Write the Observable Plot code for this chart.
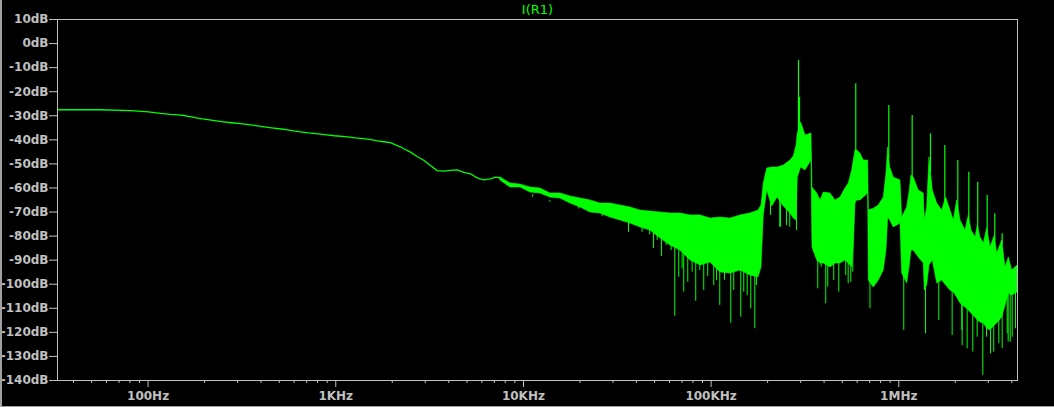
<!DOCTYPE html>
<html><head><meta charset="utf-8">
<script src="https://cdn.jsdelivr.net/npm/d3@7"></script>
<script src="https://cdn.jsdelivr.net/npm/@observablehq/plot@0.6"></script>
<style>
html,body{margin:0;padding:0;background:#000;width:1054px;height:407px;overflow:hidden}
#wrap{position:relative;width:1054px;height:407px}
#wrap svg{display:block}
.bl{position:absolute;left:0;top:0;width:2px;height:407px;background:#a0a0a0}
.bb{position:absolute;left:0;top:406px;width:1054px;height:1px;background:#a0a0a0}
</style></head><body><div id="wrap"></div>
<script>
// Smooth low-frequency part of the spectrum (Hz, dB)
const lineFreq = [32.9, 55.7, 80.5, 100.4, 116.3, 131.5, 145, 158, 168.1, 180.9, 194.7, 212.2, 231.2, 252, 277.9, 310.4, 351, 382.4, 416.7, 454.1, 500.8, 545.8, 594.8, 648, 714.9, 808.2, 891.9, 983.5, 1126, 1273, 1439, 1568, 1667, 1795, 1956, 2080, 2211, 2302, 2500, 2713, 2943, 3194, 3468, 3761, 4083, 4434, 4806, 5218, 5666, 6143, 6671, 7093, 7542];
const lineDb = [-27.5, -27.5, -27.9, -28.4, -29.0, -29.4, -29.6, -30.0, -30.4, -30.9, -31.3, -31.7, -32.1, -32.5, -32.9, -33.3, -33.8, -34.2, -34.6, -35.0, -35.4, -35.8, -36.3, -36.7, -37.1, -37.5, -37.9, -38.3, -38.7, -39.2, -39.6, -40.0, -40.4, -40.8, -41.2, -42.1, -42.9, -43.7, -45.1, -46.9, -48.5, -50.7, -52.8, -53.0, -52.7, -52.5, -53.5, -54.1, -55.8, -56.6, -56.2, -55.5, -55.8];

// Noisy band: frequency, upper envelope, lower envelope (dB)
const bandFreq = [7542, 8524, 9638, 10897, 12321, 13931, 15749, 17808, 20132, 22761, 25733, 29093, 32888, 37180, 42034, 47521, 53725, 60738, 68667, 77630, 87764, 99243, 112200, 126850, 143420, 162150, 178900, 185540, 190850, 199000, 211600, 225900, 243950, 264850, 275800, 285100, 289600, 301990, 318400, 342600, 346800, 367500, 382700, 398500, 432600, 460000, 489100, 520000, 541500, 564500, 575700, 587900, 600200, 625000, 651000, 687100, 692200, 736000, 782300, 831800, 859900, 878100, 899800, 940400, 1021000, 1042600, 1108500, 1144500, 1168500, 1202000, 1278000, 1359000, 1376000, 1417000, 1457800, 1518000, 1602000, 1703000, 1788500, 1886000, 1964000, 2047800, 2132600, 2267000, 2361000, 2440600, 2564000, 2636000, 2725000, 2838000, 2959000, 3082000, 3248000, 3345000, 3556000, 3705000, 3858000, 4022000, 4292000];
const bandHi = [-55.6, -58.1, -58.6, -59.8, -60.2, -62.3, -62.3, -63.5, -64.4, -65.2, -66.5, -66.5, -67.3, -68.1, -69.4, -69.8, -70.2, -70.6, -70.6, -71.4, -71.4, -72.7, -72.3, -72.7, -71.4, -70.6, -69.4, -67.3, -58.1, -51.9, -51.5, -51.5, -50.7, -48.6, -46.9, -42.4, -37.4, -32.8, -38.2, -37.4, -59.8, -62.3, -65.2, -61.9, -62.3, -65.2, -64.0, -60.2, -58.1, -52.7, -48.6, -44.4, -44.4, -45.7, -48.6, -48.6, -69.4, -68.6, -67.3, -64.0, -54.0, -43.2, -51.5, -55.7, -56.9, -72.3, -68.1, -61.1, -54.8, -55.7, -61.1, -62.3, -73.5, -68.1, -47.3, -61.1, -66.5, -69.4, -64.0, -69.4, -73.5, -65.2, -73.5, -77.7, -71.4, -77.7, -80.6, -75.6, -80.6, -83.1, -76.8, -84.7, -79.8, -87.2, -81.8, -93.0, -88.9, -94.3, -92.2];
const bandLo = [-56.9, -59.8, -59.8, -61.9, -62.3, -64.0, -64.4, -66.5, -68.1, -70.2, -70.6, -72.3, -73.5, -74.8, -76.4, -77.7, -81.0, -83.9, -86.0, -90.1, -92.2, -91.0, -95.1, -95.5, -94.3, -96.4, -97.2, -93.0, -71.4, -61.1, -67.7, -64.0, -67.7, -70.6, -72.7, -73.5, -55.7, -51.5, -52.7, -48.6, -84.7, -90.1, -91.4, -91.4, -93.0, -91.4, -91.4, -90.1, -91.4, -93.0, -84.7, -66.5, -65.2, -65.2, -64.0, -62.3, -98.5, -101.4, -98.5, -94.3, -86.0, -72.3, -73.5, -76.4, -74.8, -95.5, -99.7, -92.2, -86.0, -86.0, -88.9, -91.4, -102.6, -100.5, -92.2, -90.1, -99.7, -98.5, -100.5, -102.6, -103.4, -105.5, -108.0, -109.7, -110.9, -112.2, -113.8, -115.1, -115.9, -116.3, -118.4, -119.2, -117.1, -116.3, -113.8, -108.9, -103.9, -104.7, -103.4];

// Harmonic peaks (tops of narrow spikes)
const peakFreq = [292100, 295800, 590000, 884600, 1178700, 1475700, 1759000, 2063000, 2361000, 2636000, 2959000, 3248000, 3556000];
const peakDb = [-7.0, -22.3, -16.7, -25.7, -29.9, -37.5, -42.4, -48.6, -53.5, -57.6, -63.1, -70.7, -79.0];

// Downward noise spikes (bottoms)
const dipFreq = [11170, 13820, 19710, 26260, 36280, 42910, 47100, 49310, 51590, 54390, 57590, 61240, 64020, 67230, 70090, 71480, 75090, 79250, 82820, 87000, 91370, 95960, 103300, 106800, 111200, 117800, 127250, 132050, 143880, 149300, 155700, 162700, 170900, 174400, 207200, 232200, 234200, 252100, 262500, 285000, 352400, 370200, 385900, 408300, 418400, 450400, 479000, 521900, 537400, 554900, 568600, 702400, 1063000, 1388000, 1634000, 1925000, 2167000, 2177000, 2314000, 2480000, 2617000, 2804000, 2934000, 3082000, 3208000, 3412000, 3556000, 3782000, 3828000, 3925000, 4022000, 4188000];
const dipDb = [-63.8, -65.9, -68.7, -71.9, -78.5, -78.4, -79.5, -85.2, -81.8, -88.5, -83.9, -86.0, -113.3, -97.1, -93.6, -103.3, -99.2, -95.0, -107.1, -94.3, -102.6, -96.8, -100.5, -98.4, -108.8, -98.4, -116.2, -102.6, -113.7, -103.3, -104.7, -110.2, -118.5, -100.5, -71.4, -76.3, -76.3, -75.6, -76.3, -77.7, -86.7, -101.9, -92.9, -108.1, -101.2, -98.5, -103.3, -96.4, -99.8, -99.2, -95.0, -110.2, -119.2, -120.6, -115.1, -121.3, -119.2, -125.5, -126.8, -128.2, -122.0, -137.9, -122.0, -128.9, -128.2, -124.7, -126.8, -120.6, -124.1, -124.1, -122.0, -118.5];

// Axes
const yTickValues = [10, 0, -10, -20, -30, -40, -50, -60, -70, -80, -90, -100, -110, -120, -130, -140];
const yTickLabels = ["10dB", "0dB", "-10dB", "-20dB", "-30dB", "-40dB", "-50dB", "-60dB", "-70dB", "-80dB", "-90dB", "-100dB", "-110dB", "-120dB", "-130dB", "-140dB"];
const xTickValues = [100, 1000, 10000, 100000, 1000000];
const xTickLabels = ["100Hz", "1KHz", "10KHz", "100KHz", "1MHz"];
const xMinorTicks = [40, 50, 60, 70, 80, 90, 200, 300, 400, 500, 600, 700, 800, 900, 2000, 3000, 4000, 5000, 6000, 7000, 8000, 9000, 20000, 30000, 40000, 50000, 60000, 70000, 80000, 90000, 200000, 300000, 400000, 500000, 600000, 700000, 800000, 900000, 2000000, 3000000, 4000000];
const xDomain = [32.9, 4292000];
const yDomain = [-140, 10];
const title = "I(R1)";

const green = "#00ff00";
const gray = "#c0c0c0";

const lineData = lineFreq.map((f, i) => ({f, db: lineDb[i]}));
const bandData = bandFreq.map((f, i) => ({f, hi: bandHi[i], lo: bandLo[i]}));

function interpAt(f, fs, vs) {
  const lf = Math.log10(f);
  for (let i = 1; i < fs.length; i++) {
    if (fs[i] >= f) {
      const a = Math.log10(fs[i - 1]), b = Math.log10(fs[i]);
      const t = (lf - a) / (b - a);
      return vs[i - 1] + t * (vs[i] - vs[i - 1]);
    }
  }
  return vs[vs.length - 1];
}
const peakData = peakFreq.map((f, i) => ({f, top: peakDb[i], base: interpAt(f, bandFreq, bandHi) - 2}));
const dipData = dipFreq.map((f, i) => ({f, bottom: dipDb[i], base: interpAt(f, bandFreq, bandHi) - 3}));

const chart = Plot.plot({
  width: 1054,
  height: 407,
  marginLeft: 57,
  marginRight: 37,
  marginTop: 19,
  marginBottom: 27,
  style: {background: "#000", color: gray, fontFamily: "'DejaVu Sans', sans-serif", fontSize: "12px", fontWeight: "bold"},
  x: {type: "log", domain: xDomain, axis: null},
  y: {type: "linear", domain: yDomain, axis: null},
  marks: [
    Plot.areaY(bandData, {x: "f", y1: "lo", y2: "hi", fill: green, stroke: green, strokeWidth: 0.6}),
    Plot.ruleX(dipData, {x: "f", y1: "base", y2: "bottom", stroke: green, strokeWidth: 1}),
    Plot.ruleX(peakData, {x: "f", y1: "base", y2: "top", stroke: green, strokeWidth: 1.2}),
    Plot.line(lineData, {x: "f", y: "db", stroke: green, strokeWidth: 1.3}),
    Plot.frame({stroke: gray}),
    Plot.axisY({ticks: yTickValues, tickSize: 8, tickPadding: 1, tickFormat: d => yTickLabels[yTickValues.indexOf(d)], stroke: gray, fill: gray, label: null}),
    Plot.axisX({ticks: xMinorTicks, tickSize: 3, tickFormat: () => "", stroke: gray, label: null}),
    Plot.axisX({ticks: xTickValues, tickSize: 7, tickPadding: 4, tickFormat: d => xTickLabels[xTickValues.indexOf(d)], stroke: gray, fill: gray, label: null}),
    Plot.text([title], {frameAnchor: "top", lineAnchor: "middle", dy: -10, fill: green, fontWeight: "normal", fontSize: 13})
  ]
});
const wrap = document.getElementById("wrap");
wrap.appendChild(chart);
const bl = document.createElement("div"); bl.className = "bl"; wrap.appendChild(bl);
const bb = document.createElement("div"); bb.className = "bb"; wrap.appendChild(bb);
</script>
</body></html>
